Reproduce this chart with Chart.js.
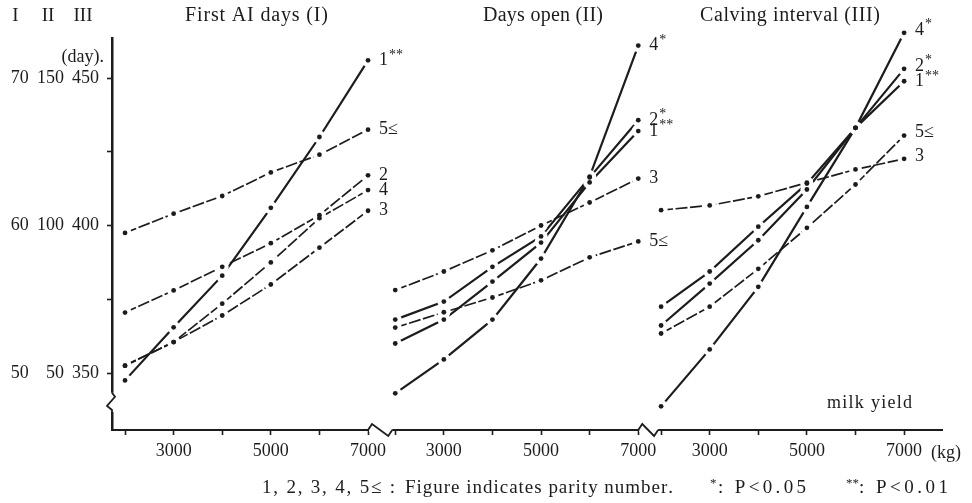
<!DOCTYPE html>
<html><head><meta charset="utf-8">
<script src="https://cdn.jsdelivr.net/npm/chart.js@4.4.1/dist/chart.umd.min.js"></script>
<style>html,body{margin:0;padding:0;background:#fff;}#wrap{width:972px;height:503px;}</style>
</head><body><div id="wrap"><canvas id="c" width="972" height="503"></canvas></div>
<script>
// ---- data ----
const milkYield = [2000, 3000, 4000, 5000, 6000, 7000];
const xTickLabels = [3000, 5000, 7000];
const panelTitles = ['First AI days (I)', 'Days open (II)', 'Calving interval (III)'];
const parityLabelsI = ['1**', '2', '3', '4', '5≤'];
const parityLabelsII = ['1**', '2*', '3', '4*', '5≤'];
const parityLabelsIII = ['1**', '2*', '3', '4*', '5≤'];
// First AI days (I)
const firstAI_1 = [49.5, 53.1, 56.6, 61.2, 66.0, 71.2];
const firstAI_2 = [54.1, 55.6, 57.2, 58.8, 60.7, 63.4];
const firstAI_3 = [50.5, 52.1, 53.9, 56.0, 58.5, 61.0];
const firstAI_4 = [50.5, 52.1, 54.7, 57.5, 60.5, 62.4];
const firstAI_5 = [59.5, 60.8, 62.0, 63.6, 64.8, 66.5];
// Days open (II)
const daysOpen_1 = [60.0, 68.1, 81.0, 94.2, 114.6, 132.0];
const daysOpen_2 = [68.1, 74.2, 86.0, 96.3, 116.3, 135.7];
const daysOpen_3 = [78.1, 84.4, 91.6, 100.0, 107.8, 115.9];
const daysOpen_4 = [43.1, 54.6, 68.1, 88.8, 116.6, 161.0];
const daysOpen_5 = [65.4, 70.6, 75.6, 81.4, 89.2, 94.6];
// Calving interval (III)
const calving_1 = [366.1, 380.3, 395.0, 412.2, 433.1, 448.9];
const calving_2 = [372.5, 384.4, 399.6, 414.2, 433.1, 453.1];
const calving_3 = [405.2, 406.8, 409.9, 414.5, 419.0, 422.6];
const calving_4 = [338.7, 358.0, 379.2, 406.3, 433.1, 465.3];
const calving_5 = [363.4, 372.5, 385.3, 399.2, 413.9, 430.5];
// y tick labels (three stacked scales)
const yTicksI = [50, 60, 70];
const yTicksII = [50, 100, 150];
const yTicksIII = [350, 400, 450];
const yMinorIII = [375, 425];

// ---- layout helpers ----
const panelOffset = [0, 5560, 11030];
const panels = [
  { series: [firstAI_1, firstAI_2, firstAI_3, firstAI_4, firstAI_5], labels: parityLabelsI, axis: 'yI' },
  { series: [daysOpen_1, daysOpen_2, daysOpen_3, daysOpen_4, daysOpen_5], labels: parityLabelsII, axis: 'yII' },
  { series: [calving_1, calving_2, calving_3, calving_4, calving_5], labels: parityLabelsIII, axis: 'yIII' }
];
const INK = '#1c1c1c';
const FONT = '"Liberation Serif", "DejaVu Serif", serif';

const datasets = [];
panels.forEach((pn, p) => {
  pn.series.forEach((s, i) => {
    const sig = pn.labels[i].includes('*');
    datasets.push({
      label: pn.labels[i],
      panel: p,
      data: milkYield.map((k, j) => ({ x: k + panelOffset[p], y: s[j] })),
      yAxisID: pn.axis,
      borderColor: INK,
      borderWidth: sig ? 2.2 : 1.7,
      borderDash: sig ? [] : [12, 2.5],
      pointRadius: 0,
      tension: 0,
      fill: false,
      clip: false
    });
  });
});

function fitText(ctx, text, x, y, width, font) {
  ctx.font = font;
  const chars = Array.from(text);
  const natural = ctx.measureText(text).width;
  const extra = chars.length > 1 ? (width - natural) / (chars.length - 1) : 0;
  let cx = x;
  chars.forEach(ch => { ctx.fillText(ch, cx, y); cx += ctx.measureText(ch).width + extra; });
}
function supLabel(ctx, text, x, y, size) {
  const m = text.match(/^(.*?)(\*+)(.*)$/);
  ctx.textAlign = 'left';
  if (!m) { ctx.font = size + 'px ' + FONT; ctx.fillText(text, x, y); return; }
  let cx = x;
  ctx.font = size + 'px ' + FONT; ctx.fillText(m[1], cx, y); cx += ctx.measureText(m[1]).width + 1;
  ctx.font = Math.round(size * 0.75) + 'px ' + FONT; ctx.fillText(m[2], cx, y - size * 0.3); cx += ctx.measureText(m[2]).width + 1;
  ctx.font = size + 'px ' + FONT; ctx.fillText(m[3], cx, y);
}

// point markers: white halo (gap in the line) + small black dot, at the library's element positions
const markers = {
  id: 'markers',
  afterDatasetsDraw(chart) {
    const ctx = chart.ctx;
    ctx.save();
    chart.data.datasets.forEach((ds, i) => {
      chart.getDatasetMeta(i).data.forEach(pt => {
        ctx.fillStyle = '#fff';
        ctx.beginPath(); ctx.arc(pt.x, pt.y, 6.5, 0, Math.PI * 2); ctx.fill();
      });
    });
    chart.data.datasets.forEach((ds, i) => {
      chart.getDatasetMeta(i).data.forEach(pt => {
        ctx.fillStyle = INK;
        ctx.beginPath(); ctx.arc(pt.x, pt.y, 2.4, 0, Math.PI * 2); ctx.fill();
      });
    });
    ctx.restore();
  }
};

const decor = {
  id: 'decor',
  afterDraw(chart) {
    const ctx = chart.ctx, xs = chart.scales.x, ys = chart.scales.yIII;
    const axisY = chart.chartArea.bottom, axisX = chart.chartArea.left;
    ctx.save();
    // x-axis breaks between panels
    for (let p = 1; p < 3; p++) {
      const xa = xs.getPixelForValue(7000 + panelOffset[p - 1]);
      const xb = xs.getPixelForValue(2000 + panelOffset[p]);
      ctx.fillStyle = '#fff';
      ctx.fillRect(xa + 1, axisY - 2, xb - xa - 4, 4);
      ctx.strokeStyle = INK; ctx.lineWidth = 1.8;
      ctx.beginPath();
      ctx.moveTo(xa, axisY); ctx.lineTo(xa + 4, axisY - 6); ctx.lineTo(xb - 7, axisY + 6); ctx.lineTo(xb - 3, axisY);
      ctx.stroke();
    }
    // y-axis break
    const yb1 = ys.getPixelForValue(343.3), yb2 = ys.getPixelForValue(336.8);
    ctx.fillStyle = '#fff';
    ctx.fillRect(axisX - 3, yb1, 6, yb2 - yb1);
    ctx.strokeStyle = INK; ctx.lineWidth = 1.8;
    ctx.beginPath();
    ctx.moveTo(axisX, yb1); ctx.lineTo(axisX + 3, yb1 + 4); ctx.lineTo(axisX - 5, yb2 - 6); ctx.lineTo(axisX, yb2 - 2); ctx.lineTo(axisX, yb2 + 1);
    ctx.stroke();

    ctx.fillStyle = INK;
    ctx.textBaseline = 'middle';
    // column headers of the y scales
    ctx.font = '19px ' + FONT; ctx.textAlign = 'center';
    ctx.fillText('I', 15.5, 16); ctx.fillText('II', 48, 16); ctx.fillText('III', 83, 16);
    ctx.textAlign = 'right'; ctx.font = '18px ' + FONT;
    ctx.fillText('(day).', 104, 57);
    ctx.textAlign = 'left';
    // panel titles
    const titleBox = [[185, 143], [483, 120], [700, 180]];
    panelTitles.forEach((t, p) => fitText(ctx, t, titleBox[p][0], 16, titleBox[p][1], '20px ' + FONT));
    // series end labels
    chart.data.datasets.forEach((ds, i) => {
      const meta = chart.getDatasetMeta(i);
      const pt = meta.data[meta.data.length - 1];
      const dy = (ds.panel === 2 && ds.label !== '1**') ? -3 : 0;
      supLabel(ctx, ds.label, pt.x + 11, pt.y + dy, 18);
    });
    // axis words
    fitText(ctx, 'milk yield', 827, 403, 85, '18px ' + FONT);
    ctx.font = '18px ' + FONT;
    ctx.fillText('(kg)', xs.getPixelForValue(7000 + panelOffset[2]) + 27, 453);
    // footnote
    fitText(ctx, '1, 2, 3, 4, 5≤ :', 262, 488, 133, '19px ' + FONT);
    fitText(ctx, 'Figure indicates parity number.', 405, 488, 267, '19px ' + FONT);
    ctx.font = '13px ' + FONT; ctx.fillText('*', 710, 484);
    fitText(ctx, ': P<0.05', 718, 488, 88, '19px ' + FONT);
    ctx.font = '13px ' + FONT; ctx.fillText('**', 846, 484);
    fitText(ctx, ': P<0.01', 859, 488, 89, '19px ' + FONT);
    ctx.restore();
  }
};

new Chart(document.getElementById('c'), {
  type: 'line',
  data: { datasets },
  options: {
    responsive: false, animation: false, events: [],
    layout: { padding: { top: 38, right: 30, left: 0, bottom: 0 } },
    plugins: { legend: { display: false }, tooltip: { enabled: false } },
    scales: {
      x: {
        type: 'linear', min: 1732, max: 18810,
        afterFit(s) { s.height = 73; },
        afterBuildTicks(s) {
          const t = [];
          panelOffset.forEach(off => milkYield.forEach(k => t.push({ value: k + off })));
          s.ticks = t;
        },
        ticks: {
          autoSkip: false, maxRotation: 0, padding: 5, color: INK,
          font: { family: FONT, size: 18 },
          callback(v) {
            for (const off of panelOffset) {
              const kg = v - off;
              if (xTickLabels.includes(kg)) return String(kg);
            }
            return '';
          }
        },
        grid: { drawOnChartArea: false, drawTicks: true, tickLength: 5, tickColor: INK, tickWidth: 1.6 },
        border: { display: true, color: INK, width: 2 }
      },
      yIII: {
        position: 'left', min: 330.68, max: 463.56,
        afterFit(s) { s.width = 112; },
        afterBuildTicks(s) {
          s.ticks = yTicksIII.concat(yMinorIII).sort((a, b) => a - b).map(v => ({ value: v }));
        },
        ticks: {
          autoSkip: false, padding: 8, color: INK,
          font: { family: FONT, size: 18 },
          callback(v) {
            const i = yTicksIII.indexOf(v);
            if (i < 0) return '';
            const a = String(yTicksI[i]);
            const b = String(yTicksII[i]).padStart(3, '\u2007');
            return a + ' \u2009' + b + ' \u2009' + yTicksIII[i];
          }
        },
        grid: { drawOnChartArea: false, drawTicks: true, tickLength: 5, tickColor: INK, tickWidth: 1.6 },
        border: { display: true, color: INK, width: 2.5 }
      },
      yI: { display: false, min: 46.136, max: 72.712 },
      yII: { display: false, min: 30.68, max: 163.56 }
    }
  },
  plugins: [markers, decor]
});
</script></body></html>
